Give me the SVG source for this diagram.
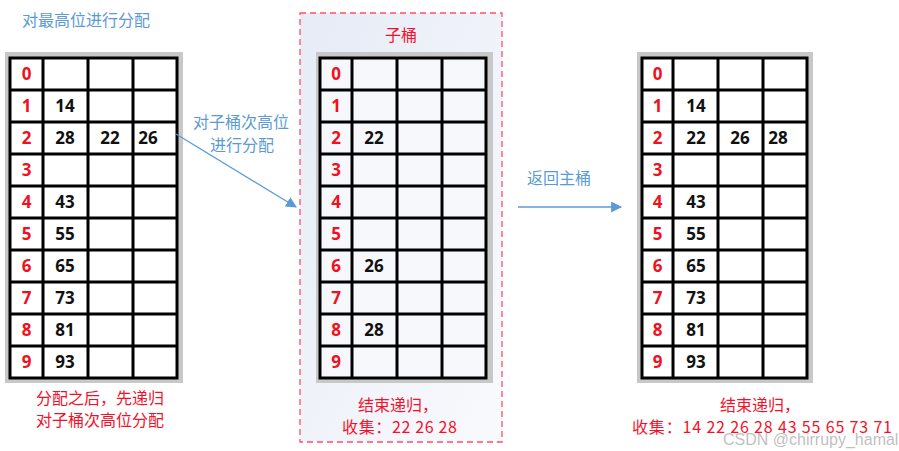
<svg xmlns="http://www.w3.org/2000/svg" width="899" height="451" viewBox="0 0 899 451">
<style>
.frame{fill:#c8c8c8}
.cells{fill:#fff}
.grid{fill:none;stroke:#000;stroke-width:3}
.idx{font-family:"Open Sans","Liberation Sans",sans-serif;font-weight:bold;font-size:17px;fill:#f0101e;text-anchor:middle}
.num{font-family:"Open Sans","Liberation Sans",sans-serif;font-weight:bold;font-size:17px;fill:#111;text-anchor:middle}
.blue{font-family:"Noto Sans CJK SC","Noto Sans",sans-serif;font-size:16px;fill:#5b9bd5}
.red{font-family:"Noto Sans CJK SC","Noto Sans",sans-serif;font-size:16px;fill:#f5102a}
.conn{stroke:#5b9bd5;stroke-width:1.3;fill:none}
</style>
<defs>
<marker id="ah" viewBox="0 0 10 10" refX="9" refY="5" markerWidth="11" markerHeight="11" markerUnits="userSpaceOnUse" orient="auto">
<path d="M0,0 L10,5 L0,10 z" fill="#5b9bd5"/>
</marker>
<linearGradient id="pg" x1="0" y1="0" x2="1" y2="1">
<stop offset="0" stop-color="#e6ebf6"/>
<stop offset="1" stop-color="#f9fafd"/>
</linearGradient>
</defs>
<rect width="899" height="451" fill="#fff"/>

<g id="title-left">
<text class="blue" x="22" y="26">对最高位进行分配</text>
</g>

<g id="main-bucket">
<rect class="frame" x="5" y="52" width="178" height="331"/>
<rect class="cells" x="10" y="58" width="167" height="320"/>
<path class="grid" d="M10,58H177V378H10Z M43,58V378 M88,58V378 M133,58V378 M10,90H177 M10,122H177 M10,154H177 M10,186H177 M10,218H177 M10,250H177 M10,282H177 M10,314H177 M10,346H177"/>
<text class="idx" x="26.5" y="80">0</text>
<text class="idx" x="26.5" y="112">1</text>
<text class="idx" x="26.5" y="144">2</text>
<text class="idx" x="26.5" y="176">3</text>
<text class="idx" x="26.5" y="208">4</text>
<text class="idx" x="26.5" y="240">5</text>
<text class="idx" x="26.5" y="272">6</text>
<text class="idx" x="26.5" y="304">7</text>
<text class="idx" x="26.5" y="336">8</text>
<text class="idx" x="26.5" y="368">9</text>
<text class="num" x="65" y="112">14</text>
<text class="num" x="65" y="144">28</text>
<text class="num" x="110" y="144">22</text>
<text class="num" x="148" y="144">26</text>
<text class="num" x="65" y="208">43</text>
<text class="num" x="65" y="240">55</text>
<text class="num" x="65" y="272">65</text>
<text class="num" x="65" y="304">73</text>
<text class="num" x="65" y="336">81</text>
<text class="num" x="65" y="368">93</text>
</g>

<g id="note-left">
<text class="red" x="36" y="404">分配之后，先递归</text>
<text class="red" x="36" y="426">对子桶次高位分配</text>
</g>

<g id="sub-bucket">
<rect x="300" y="13" width="202" height="429" fill="url(#pg)" stroke="#ff5066" stroke-width="1.3" stroke-dasharray="6,4"/>
<text class="red" x="401" y="41" text-anchor="middle">子桶</text>
<rect class="frame" x="316" y="52" width="177" height="331"/>
<rect fill="#f7f8fc" x="320" y="58" width="166" height="320"/>
<path class="grid" d="M320,58H486V378H320Z M352,58V378 M397,58V378 M442,58V378 M320,90H486 M320,122H486 M320,154H486 M320,186H486 M320,218H486 M320,250H486 M320,282H486 M320,314H486 M320,346H486"/>
<text class="idx" x="336" y="80">0</text>
<text class="idx" x="336" y="112">1</text>
<text class="idx" x="336" y="144">2</text>
<text class="idx" x="336" y="176">3</text>
<text class="idx" x="336" y="208">4</text>
<text class="idx" x="336" y="240">5</text>
<text class="idx" x="336" y="272">6</text>
<text class="idx" x="336" y="304">7</text>
<text class="idx" x="336" y="336">8</text>
<text class="idx" x="336" y="368">9</text>
<text class="num" x="374" y="144">22</text>
<text class="num" x="374" y="272">26</text>
<text class="num" x="374" y="336">28</text>
<text class="red" x="358" y="411">结束递归，</text>
<text class="red" x="342" y="433" textLength="115" lengthAdjust="spacing">收集：22 26 28</text>
</g>

<g id="result-bucket">
<rect class="frame" x="637" y="52" width="176" height="331"/>
<rect class="cells" x="642" y="58" width="165" height="320"/>
<path class="grid" d="M642,58H807V378H642Z M673,58V378 M718,58V378 M763,58V378 M642,90H807 M642,122H807 M642,154H807 M642,186H807 M642,218H807 M642,250H807 M642,282H807 M642,314H807 M642,346H807"/>
<text class="idx" x="657.5" y="80">0</text>
<text class="idx" x="657.5" y="112">1</text>
<text class="idx" x="657.5" y="144">2</text>
<text class="idx" x="657.5" y="176">3</text>
<text class="idx" x="657.5" y="208">4</text>
<text class="idx" x="657.5" y="240">5</text>
<text class="idx" x="657.5" y="272">6</text>
<text class="idx" x="657.5" y="304">7</text>
<text class="idx" x="657.5" y="336">8</text>
<text class="idx" x="657.5" y="368">9</text>
<text class="num" x="696" y="112">14</text>
<text class="num" x="696" y="144">22</text>
<text class="num" x="740" y="144">26</text>
<text class="num" x="778" y="144">28</text>
<text class="num" x="696" y="208">43</text>
<text class="num" x="696" y="240">55</text>
<text class="num" x="696" y="272">65</text>
<text class="num" x="696" y="304">73</text>
<text class="num" x="696" y="336">81</text>
<text class="num" x="696" y="368">93</text>
</g>

<g id="note-right">
<text class="red" x="720" y="411">结束递归，</text>
<text class="red" x="632" y="433" textLength="260" lengthAdjust="spacing">收集：14 22 26 28 43 55 65 73 71</text>
</g>

<g id="connectors">
<path class="conn" d="M176,134 L296,207" marker-end="url(#ah)"/>
<text class="blue" x="193" y="128">对子桶次高位</text>
<text class="blue" x="242" y="151" text-anchor="middle">进行分配</text>
<path class="conn" d="M518,207 L621,207" marker-end="url(#ah)"/>
<text class="blue" x="527" y="184">返回主桶</text>
</g>

<g id="watermark">
<text x="723" y="445" font-family="Liberation Sans, sans-serif" font-size="16" fill="#888" fill-opacity="0.55">CSDN @chirrupy_hamal</text>
</g>
</svg>
